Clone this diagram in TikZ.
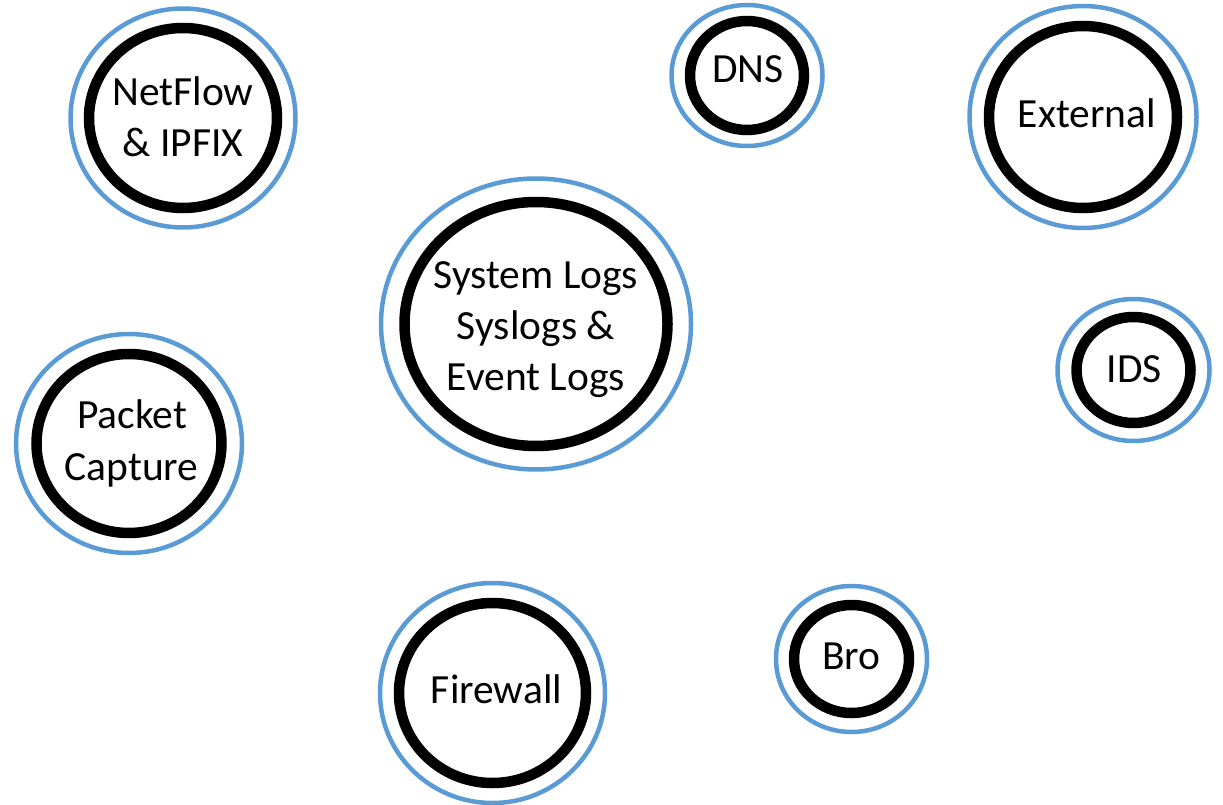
\documentclass[tikz,border=0pt]{standalone}
\usepackage{fontspec}
\setmainfont{Carlito}
\usetikzlibrary{shapes.geometric}
\definecolor{ringblue}{HTML}{5B9BD5}
\tikzset{
  outerring/.style={ellipse, draw=ringblue, line width=4.5pt, inner sep=0pt},
  innerring/.style={ellipse, draw=black, line width=10.5pt, inner sep=0pt},
  lbl/.style={anchor=base, inner sep=0pt, font=\fontsize{41.5}{50}\selectfont},
}
\begin{document}
\begin{tikzpicture}[x=1pt, y=-1pt]
\useasboundingbox (0,0) rectangle (1223,805);
% rings: outer blue ellipse, inner thick black ellipse (sizes are stroke-centre diameters)
\newcommand{\ring}[7]{%
  \node[outerring, minimum width=#4pt, minimum height=#5pt] (#1-out) at (#2,#3) {};
  \node[innerring, minimum width=#6pt, minimum height=#7pt] (#1-in) at (#2,#3) {};
}
\ring{netflow}{183}{118}{225}{219}{188}{180}
\ring{dns}{747}{75.5}{151}{141}{114}{109}
\ring{external}{1083}{117}{227}{222}{188}{182}
\ring{syslog}{536}{324}{310}{291}{263}{244}
\ring{ids}{1133.5}{370}{152}{142}{114}{106}
\ring{pcap}{129}{443.5}{226}{219}{185}{179}
\ring{firewall}{492.5}{693}{225}{220}{187}{180}
\ring{bro}{851.5}{659}{151}{146}{115}{108}
% labels
\node[lbl] (netflow-l1) at (183,106) {NetFlow};
\node[lbl] (netflow-l2) at (183,157) {\& IPFIX};
\node[lbl] (syslog-l1) at (536,288) {System Logs};
\node[lbl] (syslog-l2) at (536,339) {Syslogs \&};
\node[lbl] (syslog-l3) at (536,390) {Event Logs};
\node[lbl] (dns-l) at (748,83) {DNS};
\node[lbl] (external-l) at (1087,128) {External};
\node[lbl] (ids-l) at (1134.5,382) {IDS};
\node[lbl] (pcap-l1) at (132,428) {Packet};
\node[lbl] (pcap-l2) at (131.5,480) {Capture};
\node[lbl] (firewall-l) at (496.5,703) {Firewall};
\node[lbl] (bro-l) at (851.5,669) {Bro};
\end{tikzpicture}
\end{document}
